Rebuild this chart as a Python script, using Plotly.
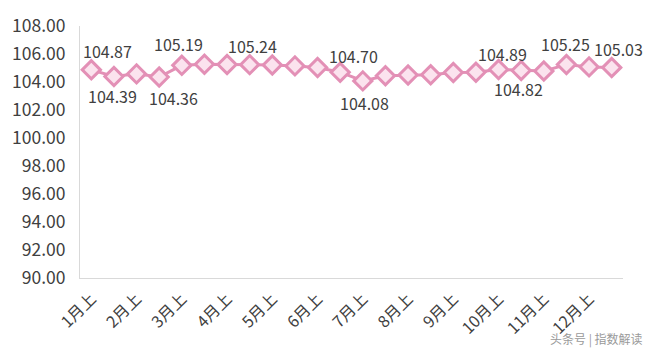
import plotly.graph_objects as go

# ---- data ----
months = [f"{m}月" for m in range(1, 13)]
categories = []
for m in months:
    categories.append(m + "上")
    categories.append(m + "下")

values = [104.87, 104.39, 104.58, 104.36, 105.19, 105.27, 105.25, 105.24,
          105.22, 105.15, 105.04, 104.70, 104.08, 104.45, 104.50, 104.52,
          104.68, 104.70, 104.89, 104.82, 104.78, 105.25, 105.08, 105.03]

tick_labels = categories[::2]
y_ticks = [90, 92, 94, 96, 98, 100, 102, 104, 106, 108]

# which points carry a value label (index -> pixel offset of the label)
label_offsets = {0: (16, 19), 1: (-1, -19), 3: (14, -21), 4: (-3, 21),
                 7: (3, 19), 11: (13, 16), 12: (2, -22), 18: (4, 16),
                 19: (-3, -18), 21: (-1, 21), 23: (7, 19)}

PINK = "#e390b6"
FILL = "#fbe3ee"
TXT = "#404040"
FONT = "Noto Sans CJK SC"

fig = go.Figure()
fig.add_trace(go.Scatter(
    x=categories, y=values, mode="lines+markers",
    line=dict(color=PINK, width=3),
    marker=dict(symbol="diamond", size=14, color=FILL,
                line=dict(color=PINK, width=3)),
    hoverinfo="skip", showlegend=False,
))

for i, (dx, dy) in label_offsets.items():
    fig.add_annotation(x=categories[i], y=values[i], text=f"{values[i]:.2f}",
                       showarrow=False, xshift=dx, yshift=dy,
                       font=dict(family=FONT, size=16, color=TXT))

fig.add_annotation(xref="paper", yref="paper", x=1.04, y=-0.2,
                   xanchor="right", yanchor="top", text="头条号 | 指数解读",
                   showarrow=False,
                   font=dict(family=FONT, size=12, color="#9a9a9a"))

fig.update_xaxes(
    type="category", categoryorder="array", categoryarray=categories,
    range=[-0.5, len(categories) - 0.5],
    tickmode="array", tickvals=tick_labels, ticktext=tick_labels,
    tickangle=-45, ticks="", showgrid=False, zeroline=False,
    showline=True, linecolor="#d9d9d9", linewidth=1,
    ticklabelstandoff=4,
    tickfont=dict(family=FONT, size=16, color=TXT),
)
fig.update_yaxes(
    range=[90, 108], tickmode="array", tickvals=y_ticks,
    ticktext=[f"{v:.2f}" for v in y_ticks],
    ticks="", showgrid=False, zeroline=False,
    showline=True, linecolor="#d9d9d9", linewidth=1,
    ticklabelstandoff=10,
    tickfont=dict(family=FONT, size=17.5, color=TXT),
)
fig.update_layout(
    width=660, height=352,
    margin=dict(l=80, r=37, t=22, b=74),
    plot_bgcolor="white", paper_bgcolor="white",
)
fig.write_html("out.html")
